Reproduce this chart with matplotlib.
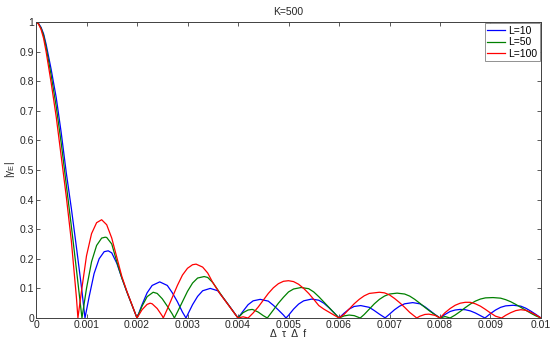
import matplotlib
matplotlib.use('Agg')
from matplotlib import pyplot as pl

# (x, |gamma|) for each L
x_l10 = [0, 0.00005, 0.0001, 0.00015, 0.0002, 0.0003, 0.0004, 0.0005, 0.0006, 0.0007, 0.0008, 0.0009, 0.00097,
         0.00105, 0.00115, 0.00125, 0.00135, 0.00143, 0.0015, 0.0016, 0.0017, 0.0018, 0.0019, 0.002,
         0.0021, 0.0022, 0.0023, 0.00245, 0.0026, 0.0027, 0.0028, 0.0029, 0.00297,
         0.0031, 0.0032, 0.0033, 0.00345, 0.0036, 0.0037, 0.0038, 0.0039, 0.004,
         0.0041, 0.0042, 0.0043, 0.00444, 0.0046, 0.0047, 0.0048, 0.0049, 0.00495,
         0.005, 0.0051, 0.0052, 0.0053, 0.00546, 0.0056, 0.0057, 0.0058, 0.0059, 0.006,
         0.0061, 0.0062, 0.0063, 0.00643, 0.0066, 0.0067, 0.0068, 0.0069, 0.00691,
         0.007, 0.0071, 0.0072, 0.0073, 0.00746, 0.0076, 0.0077, 0.0078, 0.0079, 0.008,
         0.0081, 0.0082, 0.0083, 0.0084, 0.0085, 0.0086, 0.0087, 0.0088, 0.00889,
         0.009, 0.0091, 0.0092, 0.0093, 0.00945, 0.0096, 0.0097, 0.0098, 0.0099, 0.01]
y_l10 = [1, 0.995, 0.982, 0.96, 0.925, 0.84, 0.745, 0.625, 0.49, 0.37, 0.24, 0.105, 0,
         0.07, 0.15, 0.2, 0.224, 0.227, 0.22, 0.185, 0.135, 0.088, 0.044, 0,
         0.045, 0.085, 0.11, 0.122, 0.11, 0.085, 0.055, 0.02, 0,
         0.045, 0.073, 0.092, 0.1, 0.092, 0.07, 0.047, 0.024, 0,
         0.023, 0.045, 0.058, 0.063, 0.057, 0.043, 0.027, 0.01, 0,
         0.009, 0.03, 0.047, 0.058, 0.064, 0.06, 0.05, 0.035, 0.018, 0,
         0.016, 0.03, 0.039, 0.042, 0.036, 0.025, 0.013, 0.002, 0,
         0.013, 0.028, 0.04, 0.048, 0.052, 0.048, 0.038, 0.025, 0.012, 0,
         0.012, 0.022, 0.027, 0.029, 0.028, 0.024, 0.017, 0.008, 0,
         0.015, 0.027, 0.036, 0.041, 0.043, 0.04, 0.033, 0.023, 0.012, 0]

x_l50 = [0, 0.00005, 0.0001, 0.00015, 0.0002, 0.0003, 0.0004, 0.0005, 0.0006, 0.0007, 0.0008, 0.00091,
         0.001, 0.0011, 0.0012, 0.0013, 0.00137, 0.0014, 0.0015, 0.0016, 0.0017, 0.0018, 0.0019, 0.002,
         0.0021, 0.0022, 0.00232, 0.0024, 0.0025, 0.0026, 0.0027, 0.00274,
         0.0028, 0.0029, 0.003, 0.0031, 0.0032, 0.00333, 0.0034, 0.0035, 0.0036, 0.0037, 0.0038, 0.0039, 0.004,
         0.0041, 0.0042, 0.00428, 0.0043, 0.0044, 0.0045, 0.00458,
         0.0047, 0.0048, 0.0049, 0.005, 0.0051, 0.00525, 0.0054, 0.0055, 0.0056, 0.0057, 0.0058, 0.0059, 0.006,
         0.0061, 0.0062, 0.0063, 0.00642,
         0.0065, 0.0066, 0.0067, 0.0068, 0.0069, 0.007, 0.00715, 0.0073, 0.0074, 0.0075, 0.0076, 0.0077, 0.0078, 0.0079, 0.008,
         0.0081, 0.0082,
         0.0083, 0.0084, 0.0085, 0.0086, 0.0087, 0.0088, 0.0089, 0.00905, 0.0092, 0.0093, 0.0094, 0.0095, 0.0096, 0.0097, 0.0098, 0.0099, 0.01]
y_l50 = [1, 0.994, 0.979, 0.955, 0.915, 0.82, 0.715, 0.59, 0.45, 0.31, 0.165, 0,
         0.1, 0.19, 0.245, 0.27, 0.273, 0.272, 0.25, 0.19, 0.135, 0.088, 0.044, 0,
         0.04, 0.072, 0.087, 0.083, 0.065, 0.04, 0.013, 0,
         0.02, 0.055, 0.09, 0.118, 0.135, 0.14, 0.137, 0.12, 0.095, 0.07, 0.047, 0.023, 0,
         0.018, 0.027, 0.029, 0.028, 0.02, 0.008, 0,
         0.027, 0.05, 0.07, 0.088, 0.098, 0.103, 0.099, 0.088, 0.072, 0.054, 0.036, 0.018, 0,
         0.007, 0.01, 0.008, 0,
         0.012, 0.03, 0.048, 0.063, 0.074, 0.081, 0.084, 0.081, 0.074, 0.063, 0.05, 0.036, 0.023, 0.011, 0,
         0.005, 0,
         0.01, 0.022, 0.035, 0.047, 0.057, 0.064, 0.068, 0.069, 0.067, 0.062, 0.055, 0.046, 0.036, 0.026, 0.016, 0.007, 0]

x_l100 = [0, 0.00005, 0.0001, 0.00015, 0.0002, 0.0003, 0.0004, 0.0005, 0.0006, 0.0007, 0.0008, 0.00083,
          0.0009, 0.001, 0.0011, 0.0012, 0.0013, 0.0014, 0.0015, 0.0016, 0.0017, 0.0018, 0.0019, 0.002,
          0.0021, 0.0022, 0.00226, 0.0023, 0.0024, 0.0025, 0.00252,
          0.0026, 0.0027, 0.0028, 0.0029, 0.003, 0.0031, 0.00317, 0.0033, 0.0034, 0.0035, 0.00364, 0.0038, 0.0039, 0.004,
          0.0041, 0.0042,
          0.0043, 0.0044, 0.0045, 0.0046, 0.0047, 0.0048, 0.0049, 0.005, 0.0051, 0.0052, 0.0053, 0.0054, 0.0055, 0.0056, 0.0057, 0.0058, 0.0059, 0.006,
          0.0061, 0.0062, 0.0063, 0.0064, 0.0065, 0.0066, 0.0068, 0.0069, 0.007, 0.0071, 0.0072, 0.0073, 0.0074, 0.00754,
          0.0076, 0.0077, 0.00778, 0.0079, 0.008,
          0.0081, 0.0082, 0.0083, 0.0084, 0.0085, 0.0086, 0.0087, 0.0088, 0.0089, 0.009, 0.0091, 0.00922,
          0.0093, 0.0094, 0.0095, 0.0096, 0.0097, 0.0098, 0.0099, 0.01]
y_l100 = [1, 0.993, 0.975, 0.945, 0.9, 0.795, 0.68, 0.545, 0.41, 0.26, 0.07, 0,
          0.09, 0.21, 0.285, 0.322, 0.332, 0.315, 0.27, 0.205, 0.14, 0.09, 0.045, 0,
          0.028, 0.046, 0.05, 0.048, 0.032, 0.007, 0,
          0.03, 0.07, 0.11, 0.145, 0.168, 0.18, 0.182, 0.172, 0.152, 0.12, 0.083, 0.046, 0.023, 0,
          0.004, 0,
          0.017, 0.037, 0.06, 0.083, 0.102, 0.116, 0.124, 0.126, 0.123, 0.114, 0.1, 0.083, 0.063, 0.042, 0.03, 0.02, 0.01, 0,
          0.012, 0.03, 0.048, 0.063, 0.075, 0.083, 0.087, 0.085, 0.078, 0.066, 0.052, 0.036, 0.019, 0,
          0.006, 0.012, 0.013, 0.009, 0,
          0.018, 0.032, 0.043, 0.05, 0.053, 0.053, 0.048, 0.04, 0.029, 0.017, 0.006, 0,
          0.009, 0.018, 0.025, 0.028, 0.026, 0.019, 0.01, 0]

x_ticks = [0, 0.001, 0.002, 0.003, 0.004, 0.005, 0.006, 0.007, 0.008, 0.009, 0.01]
x_tick_labels = ['0', '0.001', '0.002', '0.003', '0.004', '0.005', '0.006', '0.007', '0.008', '0.009', '0.01']
y_ticks = [0, 0.1, 0.2, 0.3, 0.4, 0.5, 0.6, 0.7, 0.8, 0.9, 1]
y_tick_labels = ['0', '0.1', '0.2', '0.3', '0.4', '0.5', '0.6', '0.7', '0.8', '0.9', '1']

pl.rcParams['font.family'] = ['Liberation Sans', 'DejaVu Sans']
pl.rcParams['font.size'] = 7.5
pl.rcParams['mathtext.fontset'] = 'custom'
pl.rcParams['mathtext.rm'] = 'Liberation Sans'
pl.rcParams['mathtext.it'] = 'Liberation Sans'

fig = pl.figure(figsize=(5.52, 3.39), dpi=100)
ax = fig.add_axes([36 / 552, 21 / 339, 505 / 552, 296 / 339])

ax.plot(x_l10, y_l10, color='#0000ff', lw=0.9, label='L=10')
ax.plot(x_l50, y_l50, color='#008000', lw=0.9, label='L=50')
ax.plot(x_l100, y_l100, color='#ff0000', lw=0.9, label='L=100')

ax.set_xlim(0, 0.01)
ax.set_ylim(0, 1)
ax.set_xticks(x_ticks)
ax.set_xticklabels(x_tick_labels)
ax.set_yticks(y_ticks)
ax.set_yticklabels(y_tick_labels)
ax.tick_params(direction='in', top=True, right=True, length=3, width=0.6,
               colors='#404040', labelcolor='#262626', pad=1.5)
for s in ax.spines.values():
    s.set_color('#404040')
    s.set_linewidth(0.7)

ax.set_title('K=500', fontsize=7.5, color='#262626', pad=5)
ax.set_xlabel('Δ  τ  Δ  f', fontsize=7.5, color='#262626', labelpad=-1)
ax.set_ylabel(r'$|\gamma_E|$', fontsize=7.5, color='#262626', labelpad=2)

leg = ax.legend(loc='upper right', fontsize=7.5, handlelength=1.7, handletextpad=0.3,
                borderpad=0.25, labelspacing=0.15, fancybox=False, framealpha=1,
                borderaxespad=0.1)
leg.get_frame().set_edgecolor('#808080')
leg.get_frame().set_linewidth(0.6)

fig.savefig('out.png', dpi=100)
